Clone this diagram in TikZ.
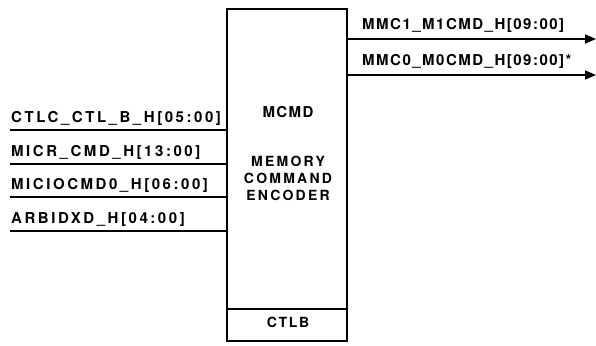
\documentclass[tikz,border=0pt]{standalone}
\usepackage{fontspec}
\setmainfont{TeX Gyre Heros}
\usetikzlibrary{positioning,arrows.meta}

\tikzset{
  sig/.style={font=\bfseries\fontsize{15}{18}\selectfont\addfontfeature{LetterSpace=17}, inner sep=0pt},
  osig/.style={font=\bfseries\fontsize{15}{18}\selectfont\addfontfeature{LetterSpace=10}, inner sep=0pt},
  blk/.style={font=\bfseries\fontsize{14}{17}\selectfont\addfontfeature{LetterSpace=16}, inner sep=0pt},
  wire/.style={line width=1.5pt},
}

\begin{document}
\begin{tikzpicture}[x=1pt,y=-1pt,>={Triangle[length=11pt,width=9pt]}]
\useasboundingbox (0,0) rectangle (596,345);
% encoder block
\node[draw,line width=1.8pt,minimum width=120pt,minimum height=332pt,inner sep=0pt] (enc) at (287,175) {};
\coordinate (divl) at (227,309);
\coordinate (divr) at (347,309);
\draw[wire] (divl) -- (divr);
\node[blk,anchor=base,font=\bfseries\fontsize{15}{18}\selectfont\addfontfeature{LetterSpace=9}] (mcmd) at (288,117) {MCMD};
\node[blk,align=center,anchor=base] (name) at (288,200) {MEMORY\\COMMAND\\ENCODER};
\node[blk,anchor=base,font=\bfseries\fontsize{14}{17}\selectfont\addfontfeature{LetterSpace=12}] (ctlb) at (288,327) {CTLB};
% inputs
\foreach \y/\lab [count=\i] in {130/CTLC\_CTL\_B\_H[05:00],164/MICR\_CMD\_H[13:00],197/MICIOCMD0\_H[06:00],231/ARBIDXD\_H[04:00]}{
  \coordinate (in\i) at (10,\y);
  \coordinate (inend\i) at (227,\y);
  \draw[wire] (in\i) -- (inend\i);
  \node[sig,anchor=base west] (inlab\i) at (11,\y-8) {\lab};
}
% outputs
\foreach \y/\lab [count=\i] in {39/MMC1\_M1CMD\_H[09:00],75/MMC0\_M0CMD\_H[09:00]*}{
  \coordinate (outst\i) at (347,\y);
  \coordinate (out\i) at (596,\y);
  \draw[wire,->] (outst\i) -- (out\i);
  \node[osig,anchor=base west] (outlab\i) at (362,\y-9) {\lab};
}
\end{tikzpicture}
\end{document}
